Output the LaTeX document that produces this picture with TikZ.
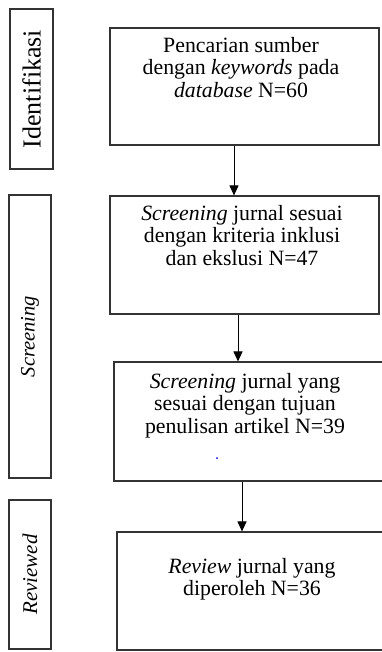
\documentclass[tikz,border=0pt]{standalone}
\usepackage{fontspec}
\setmainfont{Liberation Serif}
\usetikzlibrary{arrows.meta}
\tikzset{
  box/.style={draw=black!80, line width=1.1pt, inner sep=0pt},
  side/.style={draw=black!80, line width=1.1pt, inner sep=0pt, rotate=90},
  txt/.style={align=center, inner sep=0pt, anchor=north, font=\fontsize{21.8}{22.5}\selectfont},
  arr/.style={-{Triangle[length=10pt,width=9pt]}, line width=1pt}
}
\begin{document}
\begin{tikzpicture}[x=1pt,y=-1pt]
\useasboundingbox (0,0) rectangle (381,652);
% tahap di kiri
\node[side, minimum width=160, minimum height=43, font=\fontsize{26}{26}\selectfont] (idf) at (31.5,89) {Identifikasi};
\node[side, minimum width=283, minimum height=42, font=\fontsize{20.5}{22}\selectfont\itshape] (scr) at (30,336.5) {Screening};
\node[side, minimum width=149, minimum height=42, font=\fontsize{21}{22}\selectfont\itshape] (rev) at (30,574.5) {Reviewed};
% kotak alur
\node[box, minimum width=269, minimum height=117] (b1) at (244.5,86.5) {};
\node[txt] (t1) at (241,37) {Pencarian sumber\\dengan \textit{keywords} pada\\\textit{database} N=60};
\node[box, minimum width=269, minimum height=118] (b2) at (244.5,255) {};
\node[txt] (t2) at (242,205) {\textit{Screening} jurnal sesuai\\dengan kriteria inklusi\\dan ekslusi N=47};
\node[box, minimum width=270, minimum height=119] (b3) at (249,421.5) {};
\node[txt] (t3) at (245,373) {\textit{Screening} jurnal yang\\sesuai dengan tujuan\\penulisan artikel N=39};
\node[box, minimum width=270, minimum height=118] (b4) at (252,591) {};
\node[txt] (t4) at (252,558) {\textit{Review} jurnal yang\\diperoleh N=36};
\fill[blue] (217,458) circle (1);
% panah
\draw[arr] ([xshift=-10.5pt]b1.south) -- ([xshift=-10.5pt]b1.south |- b2.north);
\draw[arr] ([xshift=-6.5pt]b2.south) -- ([xshift=-6.5pt]b2.south |- b3.north);
\draw[arr] ([xshift=-7pt]b3.south) -- ([xshift=-7pt]b3.south |- b4.north);
\end{tikzpicture}
\end{document}
